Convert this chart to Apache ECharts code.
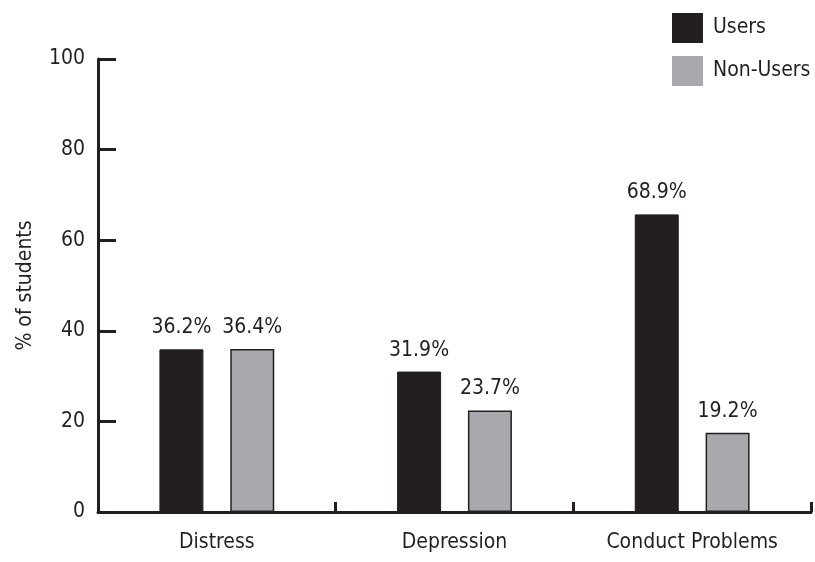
<!DOCTYPE html>
<html>
<head>
<meta charset="utf-8">
<script src="https://cdn.jsdelivr.net/npm/echarts@6/dist/echarts.min.js"></script>
<style>
  html, body { margin: 0; padding: 0; background: #ffffff; }
  #chart { width: 815px; height: 562px; }
</style>
</head>
<body>
<div id="chart"></div>
<script>
const categories = ['Distress', 'Depression', 'Conduct Problems'];
const seriesNames = ['Users', 'Non-Users'];
const usersValues = [35.9, 31.0, 65.7];
const nonUsersValues = [36.0, 22.4, 17.5];
const usersLabels = ['36.2%', '31.9%', '68.9%'];
const nonUsersLabels = ['36.4%', '23.7%', '19.2%'];
const yTicks = [0, 20, 40, 60, 80, 100];

const FONT = "'Liberation Sans Narrow', 'DejaVu Sans Condensed', sans-serif";
const INK = '#231f20';
const GREY = '#a7a9ac';
const FS = 21;

const chart = echarts.init(document.getElementById('chart'), null, { renderer: 'canvas' });

const labelStyle = (labels) => ({
  show: true,
  position: 'top',
  distance: 11,
  color: INK,
  fontFamily: FONT,
  fontSize: FS,
  formatter: (p) => labels[p.dataIndex]
});

chart.setOption({
  animation: false,
  backgroundColor: '#ffffff',
  textStyle: { fontFamily: FONT, color: INK },
  legend: {
    orient: 'vertical',
    left: 667,
    top: 8,
    icon: 'rect',
    itemWidth: 31,
    itemHeight: 30,
    itemGap: 13,
    data: seriesNames,
    itemStyle: { borderWidth: 0 },
    textStyle: { fontFamily: FONT, fontSize: FS, color: INK, padding: [0, 0, 0, 5] },
    selectedMode: false
  },
  grid: { left: 98, right: 4, top: 59, bottom: 50, containLabel: false },
  xAxis: {
    type: 'category',
    data: categories,
    boundaryGap: true,
    axisLine: { show: true, lineStyle: { color: INK, width: 3 } },
    axisTick: { show: true, inside: true, length: 10, lineStyle: { color: INK, width: 3 } },
    axisLabel: { color: INK, fontFamily: FONT, fontSize: FS, margin: 20, interval: 0, hideOverlap: false },
    splitLine: { show: false }
  },
  yAxis: {
    type: 'value',
    min: yTicks[0],
    max: yTicks[yTicks.length - 1],
    interval: yTicks[1] - yTicks[0],
    name: '% of students',
    nameLocation: 'middle',
    nameGap: 62,
    nameTextStyle: { color: INK, fontFamily: FONT, fontSize: FS },
    axisLine: { show: true, lineStyle: { color: INK, width: 3 } },
    axisTick: { show: true, inside: true, length: 18, lineStyle: { color: INK, width: 3 } },
    axisLabel: { color: INK, fontFamily: FONT, fontSize: FS, margin: 13 },
    splitLine: { show: false }
  },
  series: [
    {
      name: seriesNames[0],
      type: 'bar',
      data: usersValues,
      barWidth: 44,
      barGap: '61%',
      itemStyle: { color: INK, borderColor: INK, borderWidth: 1 },
      label: labelStyle(usersLabels)
    },
    {
      name: seriesNames[1],
      type: 'bar',
      data: nonUsersValues,
      barWidth: 44,
      barGap: '61%',
      itemStyle: { color: GREY, borderColor: INK, borderWidth: 1.5 },
      label: labelStyle(nonUsersLabels)
    }
  ]
});
</script>
</body>
</html>
